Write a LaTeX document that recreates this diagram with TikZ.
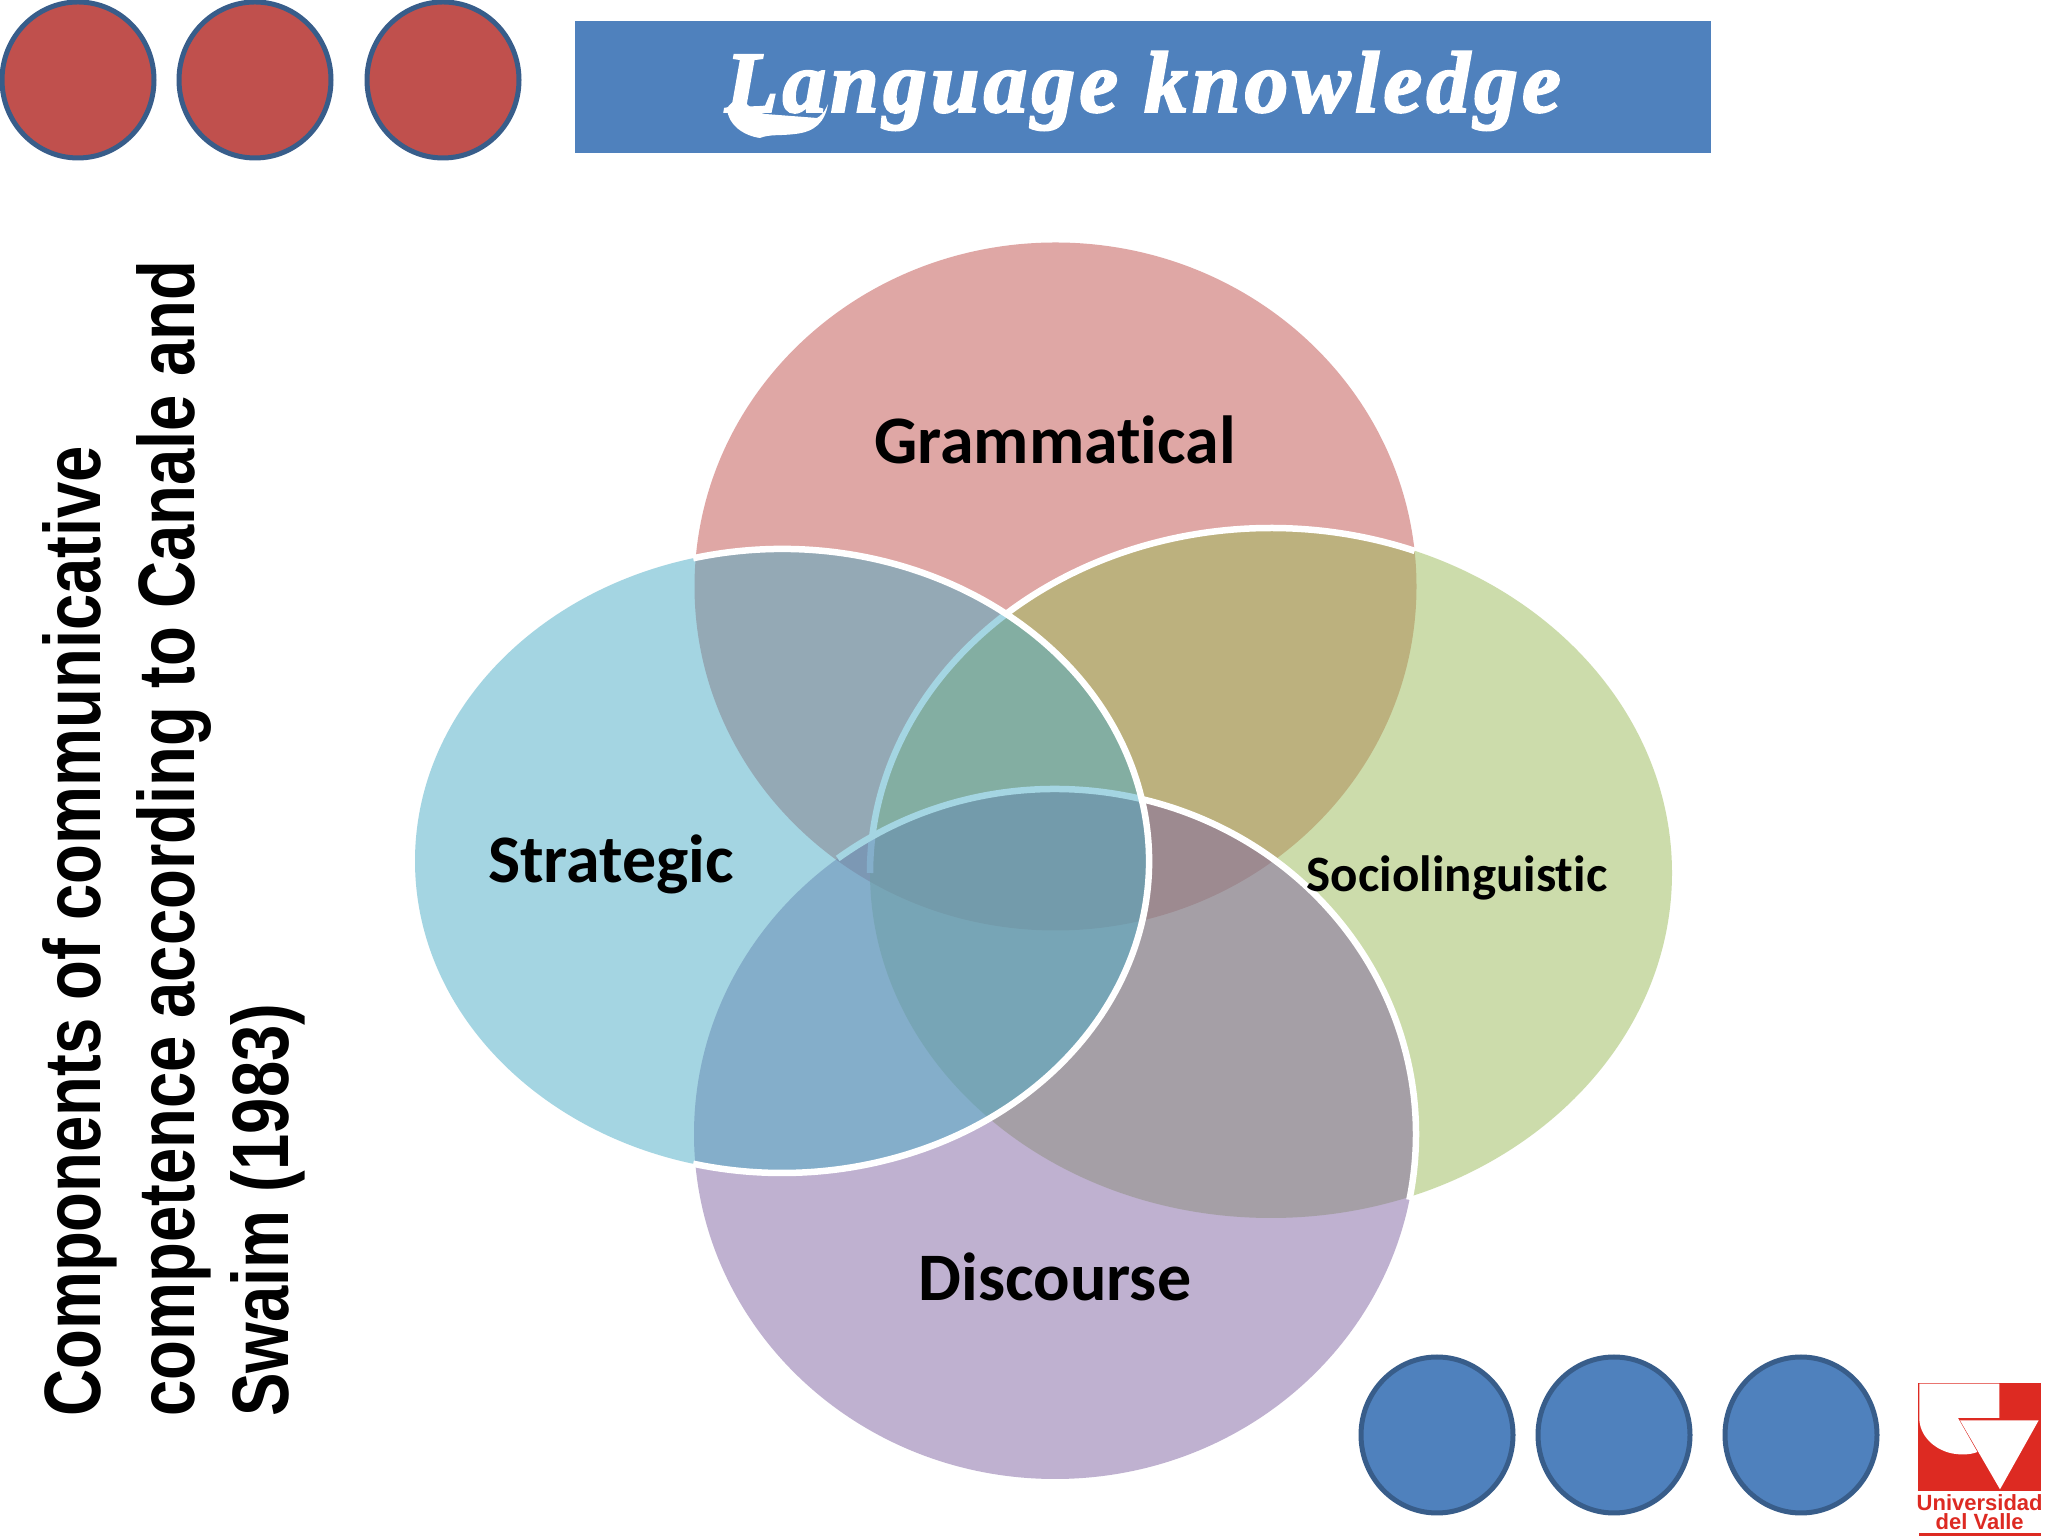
\documentclass[tikz,border=0pt]{standalone}
\usepackage{fontspec}
\setmainfont{Liberation Sans}
\newfontfamily\calibrifont[Ligatures=NoCommon]{Carlito}
\newfontfamily\titlefont[FakeBold=2.5,LetterSpace=5]{Liberation Serif}
\newfontfamily\sidefont[FakeStretch=0.815]{Liberation Sans}
\usetikzlibrary{shapes.geometric}
\definecolor{cred}{HTML}{C0504D}
\definecolor{cblue}{HTML}{4F81BD}
\definecolor{cedge}{HTML}{385D8A}
\definecolor{cgreen}{HTML}{9BBB59}
\definecolor{ccyan}{HTML}{4BACC6}
\definecolor{cpurple}{HTML}{8064A2}
\definecolor{logored}{HTML}{DD2A22}
\tikzset{
  x=1pt,y=1pt,
  redball/.style={ellipse,draw=cedge,line width=5pt,fill=cred,minimum width=152pt,minimum height=156pt,inner sep=0pt},
  blueball/.style={ellipse,draw=cedge,line width=5pt,fill=cblue,minimum width=152pt,minimum height=156pt,inner sep=0pt},
  venn/.style={fill opacity=0.5,draw=none},
  rim/.style={draw=white,line width=6.5pt},
  biglabel/.style={font=\calibrifont\bfseries\fontsize{68}{76}\selectfont,text=black,inner sep=0pt},
  smalllabel/.style={font=\calibrifont\bfseries\fontsize{51}{58}\selectfont,text=black,inner sep=0pt},
}
\begin{document}
\begin{tikzpicture}
\useasboundingbox (0,0) rectangle (2048,1536);
\fill[white] (0,0) rectangle (2048,1536);
% top row
\node[redball] (r1) at (78,1456) {};
\node[redball] (r2) at (255,1456) {};
\node[redball] (r3) at (443,1456) {};
\fill[cblue] (575,1383) rectangle (1711,1515);
\node[inner sep=0pt,text=white,font=\titlefont\bfseries\itshape\fontsize{87}{96}\selectfont] (title) at (1143,1445) {Language knowledge};
% swash foot of the title's capital L
\fill[white] (727,1428) .. controls (732,1434) and (736,1437) .. (740,1439) .. controls (748,1430) and (755,1424) .. (765,1422) -- (817,1418) .. controls (824,1422) and (826,1428) .. (828,1432) .. controls (825,1414) and (815,1404) .. (795,1402) .. controls (780,1400) and (770,1402) .. (760,1398) .. controls (745,1400) and (728,1410) .. (727,1428) -- cycle;
% venn
\fill[venn,fill=cred] (1055.5,949.5) ellipse [x radius=361,y radius=344];
\fill[venn,fill=cgreen] (1271,663) ellipse [x radius=401,y radius=345];
\draw[rim] (1271,663) ++(180:401 and 345) arc [start angle=180,end angle=69,x radius=401,y radius=345];
\fill[venn,fill=cpurple] (1055,402) ellipse [x radius=361,y radius=345];
\draw[rim] (1055,402) ++(127:361 and 345) arc [start angle=127,end angle=-11,x radius=361,y radius=345];
\fill[venn,fill=ccyan] (782,675) ellipse [x radius=367,y radius=312];
\draw[rim] (782,675) ++(104:367 and 312) arc [start angle=104,end angle=-104,x radius=367,y radius=312];
\node[biglabel] (gram) at (1055,1096) {Grammatical};
\node[biglabel] (strat) at (611,672) {Strategic};
\node[smalllabel] (socio) at (1457,658) {Sociolinguistic};
\node[biglabel] (disc) at (1055,259) {Discourse};
% left text
\node[rotate=90,anchor=south west,inner sep=0pt,align=left,font=\sidefont\bfseries\fontsize{80}{94}\selectfont,text=black] (side) at (305,119)
  {Components of communicative\\competence according to Canale and\\Swaim (1983)};
% bottom row
\node[blueball] (b1) at (1437,101) {};
\node[blueball] (b2) at (1614,101) {};
\node[blueball] (b3) at (1801,101) {};
% logo
\begin{scope}[shift={(1880,176)},x=0.3333pt,y=-0.3333pt]
\fill[logored] (115,68) rectangle (483,393);
\fill[white] (118,71) -- (358,71) -- (358,174) -- (234,174) -- (292,276) .. controls (270,285) and (240,285) .. (215,280) .. controls (160,268) and (118,225) .. (118,175) -- cycle;
\fill[white] (240,181) -- (476,181) -- (360,388) -- cycle;
\fill[logored] (118,518) rectangle (483,528);
\node[inner sep=0pt,text=logored,font=\bfseries\fontsize{22}{19}\selectfont,align=center] (logotext) at (299,455) {Universidad\\del Valle};
\end{scope}
\end{tikzpicture}
\end{document}
